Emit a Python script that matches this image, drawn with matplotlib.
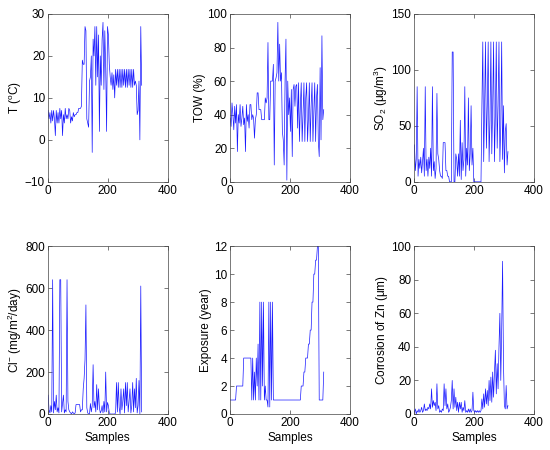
import numpy as np
import matplotlib
matplotlib.use('Agg')
from matplotlib import pyplot as plt

# values, one value every 3 samples (samples 1..313)
temp = [7, 5, 6.5, 4, 7, 4.5, 7, 5, 1, 7, 4, 6.5, 4, 7.5, 5, 7, 1, 6, 4, 7.5,
        5, 6, 5, 7.5, 7, 4, 5.5, 4.5, 6.5, 5.5, 6, 6, 6.5, 6.5, 7.5, 7.5, 7.5, 8, 19, 18,
        18, 27, 26, 5, 4, 3, 14, 15, 20, -3, 24, 20, 27, 13, 27, 15, 25, 2, 20, 13,
        24, 28, 12, 26, 17, 2, 27, 25, 18, 15, 13, 16, 12, 15.5, 10, 16.8, 13, 16.8, 12.5, 16.8,
        12.5, 16.8, 12.5, 16.8, 13, 16.8, 12.5, 16.8, 12.5, 16.8, 13, 16.8, 12.5, 16.8, 12.5, 16.8, 13, 14, 13, 6,
        7, 14, 0, 27, 13]

tow = [38, 33, 47, 40, 31, 45, 35, 46, 18, 40, 35, 46, 33, 38, 45, 34, 38, 18, 46, 36,
       40, 32, 46, 46, 37, 40, 38, 26, 37, 40, 53, 53, 43, 43, 43, 37, 37, 37, 37, 50,
       47, 50, 83, 37, 37, 60, 60, 60, 70, 10, 60, 62, 65, 95, 60, 82, 60, 65, 30, 25,
       10, 60, 85, 1, 60, 40, 50, 30, 55, 15, 55, 58, 45, 57, 58, 32, 59, 24, 45, 59,
       24, 40, 59, 24, 50, 59, 24, 38, 59, 24, 45, 59, 24, 42, 59, 24, 50, 58, 24, 15,
       68, 25, 87, 37, 43]

so2 = [33, 10, 20, 85, 5, 20, 12, 22, 8, 18, 30, 5, 85, 10, 20, 5, 22, 12, 30, 5,
       85, 10, 18, 3, 12, 79, 25, 20, 10, 5, 5, 3, 35, 35, 35, 10, 10, 5, 5, 0,
       0, 0, 116, 116, 0, 0, 25, 20, 5, 25, 5, 55, 2, 35, 10, 20, 85, 5, 30, 15,
       75, 10, 25, 68, 15, 30, 0, 0, 0, 0, 0, 0, 0, 0, 0, 68, 125, 18, 68, 125,
       30, 68, 125, 18, 55, 125, 25, 68, 125, 18, 60, 125, 30, 68, 125, 18, 50, 125, 20, 68,
       8, 45, 52, 15, 27]

chloride = [90, 20, 5, 40, 10, 640, 5, 60, 20, 90, 10, 30, 5, 640, 640, 10, 50, 90, 5, 20,
            10, 640, 60, 20, 10, 5, 0, 10, 5, 0, 5, 45, 45, 45, 45, 45, 10, 20, 20, 120,
            170, 260, 520, 30, 5, 0, 0, 50, 10, 40, 235, 30, 60, 10, 140, 20, 120, 30, 5, 15,
            40, 5, 60, 10, 200, 10, 55, 40, 5, 0, 0, 0, 0, 0, 0, 5, 150, 10, 150, 30,
            0, 120, 20, 60, 120, 5, 150, 40, 150, 10, 60, 120, 5, 40, 150, 10, 120, 30, 170, 5,
            40, 160, 0, 610, 10]

exposure = [1, 1, 1, 1, 1, 1, 1, 2, 2, 2, 2, 2, 2, 2, 2, 4, 4, 4, 4, 4,
            4, 4, 4, 4, 1, 4, 1, 3, 1, 4, 2, 5, 1, 8, 1, 8, 2, 8, 1, 2,
            1, 1, 0.5, 8, 0.5, 8, 1, 8, 1, 1, 1, 1, 1, 1, 1, 1, 1, 1, 1, 1,
            1, 1, 1, 1, 1, 1, 1, 1, 1, 1, 1, 1, 1, 1, 1, 1, 1, 1, 1, 2,
            2, 2, 3, 3, 4, 4, 4, 5, 5, 6, 6, 8, 8, 10, 10, 11, 11, 12, 12, 1,
            1, 1, 1, 1, 3]

zinc = [1, 3, 0, 2, 1, 3, 1, 2, 4, 1, 2, 6, 2, 3, 2, 4, 3, 6, 3, 15,
        4, 8, 5, 7, 2, 18, 3, 5, 1, 2, 1, 3, 2, 18, 5, 15, 3, 6, 1, 2,
        4, 8, 20, 3, 15, 4, 10, 2, 7, 1, 7, 3, 7, 1, 4, 2, 8, 1, 2, 1,
        3, 1, 3, 1, 2, 13, 2, 1, 2, 1, 2, 1, 2, 1, 2, 9, 3, 12, 4, 15,
        6, 14, 5, 20, 8, 22, 7, 25, 10, 25, 38, 12, 30, 15, 40, 60, 20, 50, 91, 30,
        5, 3, 17, 3, 5]

series = [temp, tow, so2, chloride, exposure, zinc]
ylabels = ['T ($^{o}$C)', 'TOW (%)', 'SO$_2$ ($\\mu$g/m$^3$)',
           'Cl$^{-}$ (mg/m$^2$/day)', 'Exposure (year)', 'Corrosion of Zn ($\\mu$m)']
ylims = [(-10, 30), (0, 100), (0, 150), (0, 800), (0, 12), (0, 100)]
ysteps = [10, 20, 50, 200, 2, 20]

plt.rcParams['font.family'] = ['Liberation Sans', 'DejaVu Sans']
plt.rcParams['mathtext.default'] = 'regular'
plt.rcParams['font.size'] = 8.5

fig = plt.figure(figsize=(5.5, 4.5), dpi=100)
lefts = [0.087, 0.418, 0.753]
bottoms = [0.596, 0.08]

for k in range(6):
    row, col = divmod(k, 3)
    ax = fig.add_axes([lefts[col], bottoms[row], 0.218, 0.373])
    y = series[k]
    x = np.arange(len(y)) * 3 + 1
    ax.plot(x, y, color='#1a1aff', lw=0.5)
    ax.set_xlim(0, 400)
    ax.set_ylim(*ylims[k])
    ax.set_xticks([0, 200, 400])
    ax.set_yticks(np.arange(ylims[k][0], ylims[k][1] + 0.1, ysteps[k]))
    ax.tick_params(direction='in', top=True, right=True, length=3, width=0.5,
                   color='#444444', labelsize=8.5, pad=2)
    for s in ax.spines.values():
        s.set_linewidth(0.5)
        s.set_color('#444444')
    ax.set_ylabel(ylabels[k], fontsize=8.5, labelpad=1)
    if row == 1:
        ax.set_xlabel('Samples', fontsize=8.5, labelpad=2)

fig.savefig('out.png', dpi=100)
